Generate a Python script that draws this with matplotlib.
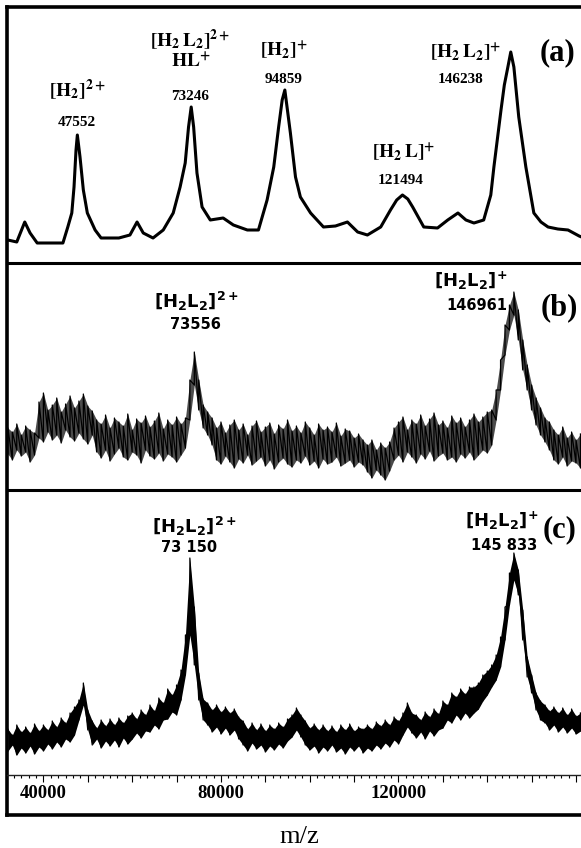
import matplotlib
matplotlib.use('Agg')
import matplotlib.pyplot as plt
import numpy as np
from matplotlib.ticker import MultipleLocator, FuncFormatter

# ---- data (intensities in arbitrary units) ----
# (a) smoothed trace
mz_a = [32000, 34000, 35800, 37000, 38600, 41500, 44400, 45500, 46400, 46900,
        47350, 47650, 48250, 49000, 49900, 51650, 53000, 57000, 59500, 61100,
        62500, 64700, 67000, 69250, 70800, 71950, 72700, 73300, 73850, 74600,
        75750, 77600, 80500, 82800, 85950, 88450, 90400, 91900, 93000, 93800,
        94400, 95650, 96800, 97900, 100200, 103100, 105800, 108500, 110800, 113000,
        116000, 118200, 119600, 120900, 122100, 123200, 125700, 128800, 131100, 133400,
        135200, 137000, 139200, 140800, 141500, 143100, 143850, 144650, 145300, 146000,
        147100, 148700, 150500, 152100, 153700, 155900, 158200, 160700, 161800]
int_a = [23, 21, 41, 30, 20, 20, 20, 36, 50, 76,
         113, 128, 106, 73, 50, 33, 25, 25, 28, 41,
         30, 25, 33, 50, 76, 100, 136, 156, 136, 90,
         56, 43, 45, 38, 33, 33, 63, 96, 136, 163,
         173, 130, 86, 66, 50, 36, 37, 41, 31, 28,
         36, 53, 63, 68, 64, 56, 36, 35, 43, 50,
         43, 40, 43, 68, 96, 153, 178, 196, 211, 196,
         146, 96, 50, 41, 36, 34, 33, 27, 25]

# (b) and (c): min / max of the noisy signal in 1000 Da bins
mz_bins = np.arange(32000, 162000, 1000)
b_lo = [36, 30, 40, 34, 38, 28, 35,
        52, 48, 58, 50, 55, 47, 60, 53, 49, 57, 51, 46, 55,
        38, 32, 40, 29, 36, 42, 33, 30, 38, 35, 27, 40, 34, 31, 37, 29, 36, 33, 28, 35, 42,
        70, 105, 80, 62, 55, 45,
        30, 26, 34, 28, 22, 31, 27, 35, 25, 29, 33, 24, 30, 21, 28, 32, 26, 23, 30, 27,
        34, 25, 29, 22, 31, 26, 28, 33, 24, 27, 30, 23, 28, 25,
        18, 12, 20, 15, 10, 19,
        30, 35, 28, 38, 33, 27, 36, 31, 39, 29, 34, 37, 30, 33, 28, 36, 32, 38, 30, 35, 40, 37,
        45, 70, 100, 135, 160, 175, 150, 120, 100, 80, 65, 55, 48, 40,
        30, 26, 33, 24, 29, 27, 22]
b_hi = [62, 58, 66, 55, 64, 60, 57,
        88, 97, 80, 85, 92, 78, 86, 94, 82, 89, 96, 84, 79,
        70, 66, 75, 62, 72, 68, 64, 76, 60, 71, 67, 74, 63, 69, 77, 61, 70, 65, 73, 66, 72,
        110, 138, 110, 85, 78, 72,
        62, 68, 57, 65, 70, 60, 66, 55, 64, 69, 58, 63, 67, 56, 65, 61, 70, 59, 64, 57,
        68, 62, 55, 66, 60, 63, 58, 67, 54, 61, 59, 52, 56, 50,
        45, 50, 40, 47, 42, 48,
        62, 68, 73, 60, 70, 66, 75, 64, 71, 77, 65, 69, 62, 74, 67, 72, 63, 70, 76, 68, 73, 78,
        80, 100, 130, 165, 185, 198, 180, 150, 125, 105, 92, 82, 72, 68,
        60, 55, 63, 52, 58, 50, 56]
c_lo = [24, 30, 20, 27, 22, 29, 21, 28, 24, 31, 26, 33, 28, 36, 33,
        40, 55, 70, 45,
        30, 36, 27, 34, 29, 35, 28, 37, 31,
        36, 42, 37, 44,
        43, 50, 46, 55,
        56, 63, 60,
        75, 100, 140, 110, 75, 55,
        50, 43, 48, 41, 47, 40, 45, 36,
        30, 24, 32, 26, 30, 23, 29, 25, 31, 27, 34,
        38, 45, 38,
        30, 25, 29, 22, 28, 24, 30, 23, 27, 21, 28, 24, 29, 22,
        27, 24, 30, 26, 32, 28, 35, 31,
        40, 48, 42,
        37, 43, 36, 44, 39, 45,
        47, 55, 52, 60, 55, 62, 57,
        62, 66, 74, 80, 88, 95, 108, 135, 170, 195, 180, 135, 98, 82, 65, 55,
        52, 45, 50, 43, 48, 42, 47, 41, 44]
c_hi = [46, 40, 50, 43, 48, 42, 51, 44, 50, 45, 54, 48, 57, 52, 62,
        68, 75, 92, 65,
        54, 47, 55, 49, 56, 50, 57, 52, 59,
        62, 56, 65, 60,
        70, 64, 77, 72,
        86, 80, 90,
        105, 140, 217, 168, 102, 76,
        72, 65, 70, 63, 68, 62, 66, 58,
        54, 46, 52, 45, 51, 44, 50, 46, 52, 48, 56,
        60, 67, 60,
        54, 47, 51, 45, 50, 44, 49, 43, 50, 45, 51, 44, 48, 46,
        50, 46, 53, 49, 55, 50, 58, 54,
        62, 72, 62,
        60, 55, 63, 58, 66, 61,
        74, 70, 82, 78, 86, 81, 88,
        88, 92, 100, 104, 110, 120, 138, 168, 202, 222, 205, 165, 118, 100, 82, 74,
        70, 64, 68, 62, 67, 60, 66, 59, 62]
tick_labels = [40000, 80000, 120000]

W, H = 581, 848
fig = plt.figure(figsize=(W / 100, H / 100), dpi=100)


def box(top, bottom, left=7, right=584):
    return [left / W, 1 - bottom / H, (right - left) / W, (bottom - top) / H]


frame = fig.add_axes(box(7, 815))
frame.set_xticks([])
frame.set_yticks([])
for s in frame.spines.values():
    s.set_linewidth(2.6)
frame.set_zorder(0)

ax_a = fig.add_axes(box(7, 263))
ax_b = fig.add_axes(box(263, 490))
ax_c = fig.add_axes(box(490, 775))

for ax, ytop in ((ax_a, 256), (ax_b, 227), (ax_c, 285)):
    ax.set_zorder(1)
    ax.set_facecolor('none')
    ax.set_xlim(31800, 161800)
    ax.set_ylim(0, ytop)
    ax.set_yticks([])
    for side in ('left', 'right', 'bottom', 'top'):
        ax.spines[side].set_visible(False)

for ax in (ax_b, ax_c):
    ax.spines['top'].set_visible(True)
    ax.spines['top'].set_linewidth(2.2)

ax_a.set_xticks([])
ax_b.set_xticks([])

ax_a.plot(mz_a, int_a, color='black', lw=2.2)

# noisy traces: filled min/max band plus the min-max polyline
ax_b.fill_between(mz_bins, b_lo, b_hi, color='black', alpha=0.7, lw=0)
ax_b.plot(np.repeat(mz_bins, 2), np.column_stack([b_lo, b_hi]).ravel(),
          color='black', lw=0.9)
ax_c.fill_between(mz_bins, c_lo, c_hi, color='black', lw=0)
ax_c.plot(np.repeat(mz_bins, 2), np.column_stack([c_lo, c_hi]).ravel(),
          color='black', lw=0.9)

# bottom axis
ax_c.spines['bottom'].set_visible(True)
ax_c.spines['bottom'].set_linewidth(1.0)
ax_c.spines['bottom'].set_color('#222222')
ax_c.xaxis.set_major_locator(MultipleLocator(10000))
ax_c.xaxis.set_minor_locator(MultipleLocator(10000 / 6))
ax_c.xaxis.set_major_formatter(
    FuncFormatter(lambda v, p: '%d' % v if int(round(v)) in tick_labels else ''))
ax_c.tick_params(axis='x', which='major', direction='out', length=5, width=0.8,
                 pad=2, labelsize=13.5)
ax_c.tick_params(axis='x', which='minor', direction='out', length=2.5, width=0.8)
for lab in ax_c.get_xticklabels():
    lab.set_family('Liberation Serif')
    lab.set_fontweight('bold')

fig.text(299 / W, 1 - 837 / H, 'm/z', family='Liberation Serif', fontsize=19,
         ha='center', va='center')

# labels, panel (a): bold serif
serif = dict(math_fontfamily='stix', ha='center', va='center', fontsize=14)
num_a = dict(family='Liberation Serif', fontweight='bold', fontsize=11,
             ha='center', va='center')
ax_a.text(47580, 173, r'$\mathbf{[H_2]^{2+}}$', **serif)
ax_a.text(47580, 141, '47552', **num_a)
ax_a.text(73090, 223, r'$\mathbf{[H_2\,L_2]^{2+}}$', **serif)
ax_a.text(73300, 201, r'$\mathbf{HL^{+}}$', **serif)
ax_a.text(73090, 166, '73246', **num_a)
ax_a.text(94300, 213, r'$\mathbf{[H_2]^{+}}$', **serif)
ax_a.text(94100, 183, '94859', **num_a)
ax_a.text(121160, 111, r'$\mathbf{[H_2\,L]^{+}}$', **serif)
ax_a.text(120480, 83, '121494', **num_a)
ax_a.text(135150, 211, r'$\mathbf{[H_2\,L_2]^{+}}$', **serif)
ax_a.text(134020, 183, '146238', **num_a)

# labels, panels (b) and (c): bold sans
sans = dict(math_fontfamily='dejavusans', ha='center', va='center', fontsize=13)
num_bc = dict(family='DejaVu Sans', fontweight='bold', fontsize=10.5,
              ha='center', va='center')
ax_b.text(74450, 189, r'$\mathbf{[H_2L_2]^{2+}}$', **sans)
ax_b.text(74230, 166, '73556', **num_bc)
ax_b.text(136280, 209, r'$\mathbf{[H_2L_2]^{+}}$', **sans)
ax_b.text(137630, 185, '146961', **num_bc)
ax_c.text(74100, 249, r'$\mathbf{[H_2L_2]^{2+}}$', **sans)
ax_c.text(72860, 228, '73 150', **num_bc)
ax_c.text(143160, 254, r'$\mathbf{[H_2L_2]^{+}}$', **sans)
ax_c.text(143840, 230, '145 833', **num_bc)

panel = dict(family='Liberation Serif', fontweight='bold', fontsize=22,
             ha='center', va='center')
ax_a.text(155920, 210, '(a)', **panel)
ax_b.text(156140, 182, '(b)', **panel)
ax_c.text(156380, 245, '(c)', **panel)

fig.savefig('out.png', dpi=100)
